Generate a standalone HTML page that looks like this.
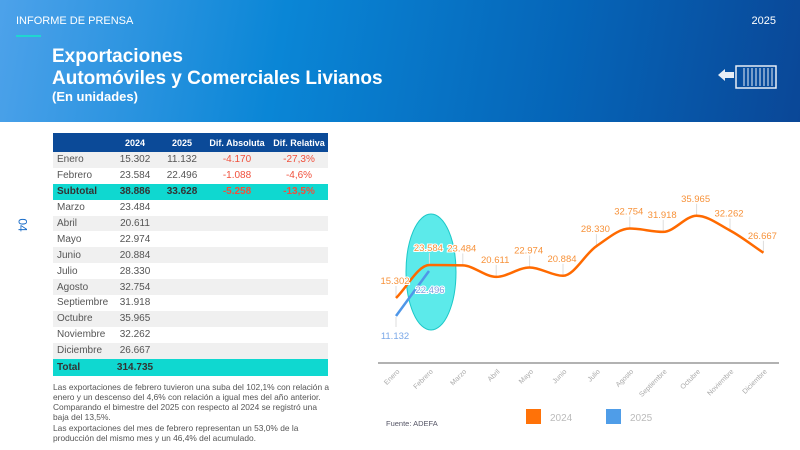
<!DOCTYPE html>
<html><head><meta charset="utf-8"><style>
*{margin:0;padding:0;box-sizing:border-box}
body{width:800px;height:450px;overflow:hidden;background:#fff;font-family:"Liberation Sans",sans-serif;position:relative}
.hdr{position:absolute;left:0;top:0;width:800px;height:122px;background:linear-gradient(100deg,#4da2ea 0%,#0a86d6 35%,#0565b8 70%,#0a4797 100%)}
.t{position:absolute;color:#fff}
table{position:absolute;left:53px;top:133px;width:275px;border-collapse:collapse;font-size:10px;color:#555;table-layout:fixed}
td,th{height:15.9px;padding:0 1px;text-align:center;white-space:nowrap}
th{background:#0b4a98;color:#fff;height:19px;font-size:9px}
td:first-child{text-align:left;padding-left:4px}
tr.g td{background:#f0f0f0}
tr.c td{background:#0fd8d0;color:#333;font-weight:bold}
.r{color:#f0503c}
.p{position:absolute;left:53px;font-size:8.4px;color:#555;line-height:10px;width:280px}
</style></head><body>
<div class="hdr"></div>
<div class="t" style="left:16px;top:15px;font-size:11px">INFORME DE PRENSA</div>
<div style="position:absolute;left:16px;top:35px;width:25px;height:2px;background:#1fd6d0"></div>
<div class="t" style="right:24px;top:15px;font-size:11px">2025</div>
<div class="t" style="left:52px;top:46px;font-size:19px;font-weight:bold;line-height:22px">Exportaciones<br>Automóviles y Comerciales Livianos</div>
<div class="t" style="left:52px;top:89px;font-size:13px;font-weight:bold">(En unidades)</div>
<svg style="position:absolute;left:712px;top:62px" width="66" height="30"><path d="M6 13 L13 7 V10 H22 V16 H13 V19Z" fill="#e8eef6"/><rect x="24" y="4" width="40" height="22" fill="none" stroke="#e8eef6" stroke-width="1.5"/><path d="M32 6V24M36 6V24M40 6V24M44 6V24M48 6V24M52 6V24M56 6V24M60 6V24" stroke="#e8eef6"/></svg>
<div style="position:absolute;left:16px;top:218px;color:#1a6cc8;font-size:12px;transform:rotate(90deg)">04</div>
<table>
<colgroup><col style="width:57px"><col style="width:50px"><col style="width:44px"><col style="width:66px"><col style="width:58px"></colgroup>
<tr><th></th><th>2024</th><th>2025</th><th>Dif. Absoluta</th><th>Dif. Relativa</th></tr>
<tr class="g"><td>Enero</td><td>15.302</td><td>11.132</td><td class="r">-4.170</td><td class="r">-27,3%</td></tr>
<tr><td>Febrero</td><td>23.584</td><td>22.496</td><td class="r">-1.088</td><td class="r">-4,6%</td></tr>
<tr class="c"><td>Subtotal</td><td>38.886</td><td>33.628</td><td style="color:#f0503c">-5.258</td><td style="color:#f0503c">-13,5%</td></tr>
<tr><td>Marzo</td><td>23.484</td><td></td><td></td><td></td></tr>
<tr class="g"><td>Abril</td><td>20.611</td><td></td><td></td><td></td></tr>
<tr><td>Mayo</td><td>22.974</td><td></td><td></td><td></td></tr>
<tr class="g"><td>Junio</td><td>20.884</td><td></td><td></td><td></td></tr>
<tr><td>Julio</td><td>28.330</td><td></td><td></td><td></td></tr>
<tr class="g"><td>Agosto</td><td>32.754</td><td></td><td></td><td></td></tr>
<tr><td>Septiembre</td><td>31.918</td><td></td><td></td><td></td></tr>
<tr class="g"><td>Octubre</td><td>35.965</td><td></td><td></td><td></td></tr>
<tr><td>Noviembre</td><td>32.262</td><td></td><td></td><td></td></tr>
<tr class="g"><td>Diciembre</td><td>26.667</td><td></td><td></td><td></td></tr>
<tr class="c"><td style="height:17px">Total</td><td>314.735</td><td></td><td></td><td></td></tr>
</table>
<div class="p" style="top:382px">Las exportaciones de febrero tuvieron una suba del 102,1% con relación a enero y un descenso del 4,6% con relación a igual mes del año anterior. Comparando el bimestre del 2025 con respecto al 2024 se registró una baja del 13,5%.</div>
<div class="p" style="top:423px">Las exportaciones del mes de febrero representan un 53,0% de la producción del mismo mes y un 46,4% del acumulado.</div>
<svg id="c" style="position:absolute;left:0;top:0" width="800" height="450" font-family="Liberation Sans, sans-serif"></svg>
<script>
var v=[15302,23584,23484,20611,22974,20884,28330,32754,31918,35965,32262,26667];
var m=["Enero","Febrero","Marzo","Abril","Mayo","Junio","Julio","Agosto","Septiembre","Octubre","Noviembre","Diciembre"];
function X(i){return 396+33.4*i}function Y(a){return 298-0.00398*(a-15302)}
var n=v.length,xs=[],ys=[],s="";
for(var i=0;i<n;i++){xs.push(X(i));ys.push(Y(v[i]));}
var d=[],t=[];for(i=0;i<n-1;i++)d.push((ys[i+1]-ys[i])/(xs[i+1]-xs[i]));
for(i=0;i<n;i++){if(i==0)t.push(d[0]);else if(i==n-1)t.push(d[n-2]);else t.push(d[i-1]*d[i]<=0?0:2/(1/d[i-1]+1/d[i]));}
var p="M"+xs[0]+","+ys[0];
for(i=0;i<n-1;i++){var h=(xs[i+1]-xs[i])/3;p+="C"+(xs[i]+h)+","+(ys[i]+t[i]*h)+" "+(xs[i+1]-h)+","+(ys[i+1]-t[i+1]*h)+" "+xs[i+1]+","+ys[i+1];}
s+='<ellipse cx="431" cy="272" rx="25" ry="58" fill="#5ceaea" stroke="#1cc8c8"/>';
s+='<line x1="378" y1="363" x2="779" y2="363" stroke="#999" stroke-width="1.5"/>';
var L="";
for(i=0;i<n;i++){s+='<line x1="'+xs[i]+'" y1="'+(ys[i]-12)+'" x2="'+xs[i]+'" y2="'+ys[i]+'" stroke="#ddd"/>';
L+='<text x="'+(xs[i]-1)+'" y="'+(ys[i]-14)+'" font-size="9.5" fill="#f7923a" stroke="#fff" stroke-width="2" paint-order="stroke" text-anchor="middle">'+(v[i]/1000).toFixed(3)+'</text>';
s+='<text transform="translate('+(X(i)+4)+',372) rotate(-45)" font-size="7" fill="#aaa" text-anchor="end">'+m[i]+'</text>';}
s+='<line x1="396" y1="317" x2="396" y2="327" stroke="#ddd"/>';
s+='<line x1="396" y1="316" x2="429" y2="271" stroke="#4f97e8" stroke-width="2.5"/>';
s+='<path d="'+p+'" fill="none" stroke="#ff6a00" stroke-width="2.5"/>';
s+=L;
s+='<text x="395" y="339" font-size="9.5" fill="#7aa8e8" stroke="#fff" stroke-width="2" paint-order="stroke" text-anchor="middle">11.132</text>';
s+='<text x="430" y="293" font-size="9.5" fill="#7a9ee0" stroke="#fff" stroke-width="2" paint-order="stroke" text-anchor="middle">22.496</text>';
s+='<rect x="526" y="409" width="15" height="15" fill="#ff7208"/><text x="550" y="421" font-size="10" fill="#bbb">2024</text>';
s+='<rect x="606" y="409" width="15" height="15" fill="#4f9de8"/><text x="630" y="421" font-size="10" fill="#bbb">2025</text>';
s+='<text x="386" y="426" font-size="7.5" fill="#556">Fuente: ADEFA</text>';
document.getElementById("c").innerHTML=s;
</script>
</body></html>
